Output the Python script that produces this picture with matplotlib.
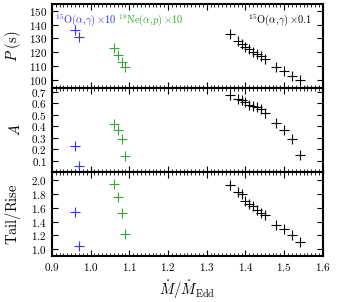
import numpy as np
import matplotlib
matplotlib.use("Agg")
import matplotlib.pyplot as plt
from matplotlib.ticker import MultipleLocator

plt.rcParams['font.family'] = 'serif'
plt.rcParams['font.serif'] = ['cmr10']
plt.rcParams['mathtext.fontset'] = 'cm'
plt.rcParams['axes.formatter.use_mathtext'] = True

# --- data ---
# 15O(a,g) x10
blue_mdot = [0.96, 0.97]
blue_P = [136, 131]
blue_A = [0.23, 0.05]
blue_tr = [1.54, 1.05]

# 18Ne(a,p) x10
green_mdot = [1.06, 1.07, 1.08, 1.09]
green_P = [123, 118, 113, 109]
green_A = [0.42, 0.37, 0.29, 0.14]
green_tr = [1.95, 1.76, 1.53, 1.22]

# 15O(a,g) x0.1
black_mdot = [1.36, 1.38, 1.39, 1.40, 1.41, 1.42, 1.43, 1.44, 1.45, 1.48, 1.50, 1.52, 1.54]
black_P = [133, 128, 126, 124, 122, 120, 119, 117, 115, 109, 106, 103, 100]
black_A = [0.67, 0.64, 0.63, 0.61, 0.59, 0.58, 0.57, 0.55, 0.52, 0.43, 0.37, 0.29, 0.15]
black_tr = [1.93, 1.83, 1.80, 1.70, 1.66, 1.62, 1.57, 1.52, 1.49, 1.35, 1.29, 1.21, 1.10]

c_blue = '#3333ff'
c_green = '#33a833'

fig, axes = plt.subplots(3, 1, figsize=(3.41, 3.02), dpi=100, sharex=True)
fig.subplots_adjust(left=0.152, right=0.947, top=0.987, bottom=0.152, hspace=0)

series = [
    (blue_mdot, [blue_P, blue_A, blue_tr], c_blue),
    (green_mdot, [green_P, green_A, green_tr], c_green),
    (black_mdot, [black_P, black_A, black_tr], 'k'),
]

for x, ys, col in series:
    for ax, y in zip(axes, ys):
        ax.plot(x, y, '+', color=col, ms=7, mew=0.8)

ylims = [(94, 155), (0.0, 0.735), (0.9, 2.12)]
ysteps = [10, 0.1, 0.2]
ylabels = [r'$P\ \mathrm{(s)}$', r'$A$', r'$\mathrm{Tail/Rise}$']
for ax, lim, st, lab in zip(axes, ylims, ysteps, ylabels):
    ax.set_ylim(*lim)
    ax.yaxis.set_major_locator(MultipleLocator(st))
    ax.set_ylabel(lab, fontsize=10.5)
    ax.set_xlim(0.9, 1.6)
    ax.xaxis.set_major_locator(MultipleLocator(0.1))
    ax.xaxis.set_minor_locator(MultipleLocator(0.01))
    ax.tick_params(which='both', direction='in', top=True, right=True, labelsize=8)
    ax.tick_params(which='major', length=4, width=0.8)
    ax.tick_params(which='minor', length=2, width=0.6)
    for s in ax.spines.values():
        s.set_linewidth(1.5)

axes[1].set_yticks(np.arange(0.1, 0.71, 0.1))
axes[2].set_yticks(np.arange(1.0, 2.01, 0.2))
axes[2].set_xlabel(r'$\dot{M}/\dot{M}_{\rm Edd}$', fontsize=10.5)

axes[0].text(0.011, 0.81, r'$^{15}\mathrm{O}(\alpha,\!\gamma)\,{\times}10$', color=c_blue,
             fontsize=7.5, transform=axes[0].transAxes, va='center', ha='left')
axes[0].text(0.245, 0.81, r'$^{18}\mathrm{Ne}(\alpha,\!p)\,{\times}10$', color=c_green,
             fontsize=7.5, transform=axes[0].transAxes, va='center', ha='left')
axes[0].text(0.958, 0.81, r'$^{15}\mathrm{O}(\alpha,\!\gamma)\,{\times}0.1$', color='k',
             fontsize=7.5, transform=axes[0].transAxes, va='center', ha='right')

fig.align_ylabels(axes)
plt.savefig('out.png', dpi=100)
